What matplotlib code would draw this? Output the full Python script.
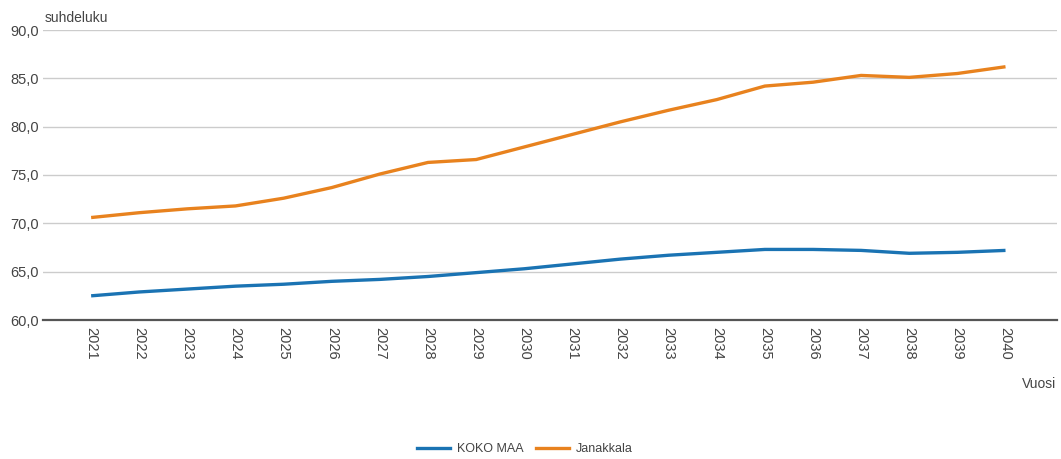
import matplotlib
matplotlib.use("Agg")
import matplotlib.pyplot as plt
from matplotlib.lines import Line2D

plt.rcParams['font.family'] = ['Liberation Sans', 'DejaVu Sans']

years = list(range(2021, 2041))
koko_maa = [62.5, 62.9, 63.2, 63.5, 63.7, 64.0, 64.2, 64.5, 64.9, 65.3,
            65.8, 66.3, 66.7, 67.0, 67.3, 67.3, 67.2, 66.9, 67.0, 67.2]
janakkala = [70.6, 71.1, 71.5, 71.8, 72.6, 73.7, 75.1, 76.3, 76.6, 77.9,
             79.2, 80.5, 81.7, 82.8, 84.2, 84.6, 85.3, 85.1, 85.5, 86.2]
series_names = ["KOKO MAA", "Janakkala"]
y_ticks = [60, 65, 70, 75, 80, 85, 90]
y_label = "suhdeluku"
x_label = "Vuosi"

blue = "#1a73b3"
orange = "#e8821e"
txt = "#444444"

fig = plt.figure(figsize=(10.61, 4.59), dpi=100)
ax = fig.add_axes([43/1061, 1-320/459, (1057-43)/1061, 290/459])

ax.plot(years, koko_maa, color=blue, lw=2.4, solid_capstyle='butt', zorder=3)
ax.plot(years, janakkala, color=orange, lw=2.4, solid_capstyle='butt', zorder=3)

ax.set_xlim(2020, 2041.07)
ax.set_ylim(60, 90)
ax.set_yticks(y_ticks)
ax.set_yticklabels([f"{v:.1f}".replace('.', ',') for v in y_ticks],
                   fontsize=10.5, color=txt)
ax.set_xticks(years)
ax.set_xticklabels([str(y) for y in years], rotation=-90, fontsize=10.5,
                   color=txt, va='top')
ax.tick_params(axis='both', length=0)
ax.tick_params(axis='y', pad=3)
ax.tick_params(axis='x', pad=5)

for s in ['top', 'right', 'left']:
    ax.spines[s].set_visible(False)
ax.spines['bottom'].set_color('#555555')
ax.spines['bottom'].set_linewidth(1.6)
ax.grid(axis='y', color='#cccccc', lw=1)
ax.set_axisbelow(True)

fig.text(45/1061, 1-22/459, y_label, fontsize=10, color=txt, va='baseline')
fig.text(1056/1061, 1-388/459, x_label, fontsize=10, color=txt, ha='right', va='baseline')

handles = [Line2D([], [], color=blue, lw=2.4), Line2D([], [], color=orange, lw=2.4)]
fig.legend(handles, series_names, loc='center', bbox_to_anchor=(525/1061, 1-449/459),
           ncol=2, frameon=False, fontsize=9, handlelength=2.6,
           columnspacing=1.0, handletextpad=0.6, labelcolor=txt)

fig.savefig("out.png", dpi=100)
